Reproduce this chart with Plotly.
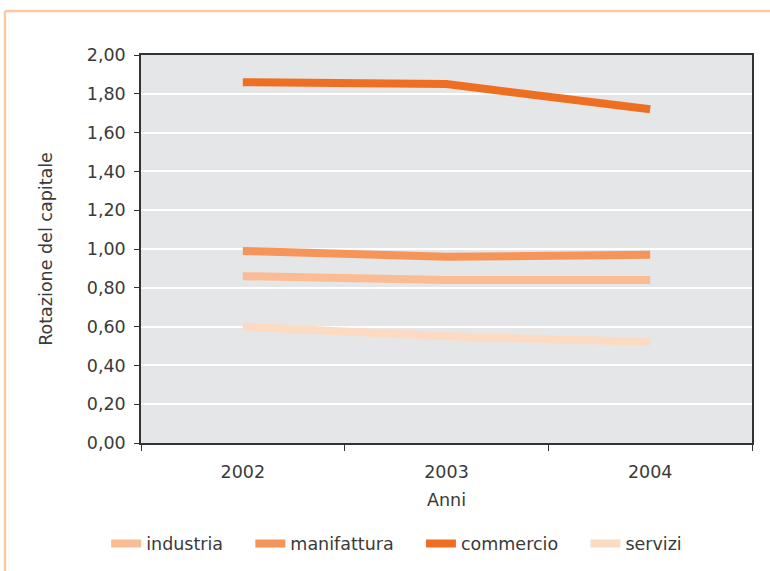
import plotly.graph_objects as go

anni = ["2002", "2003", "2004"]
industria = [0.86, 0.84, 0.84]
manifattura = [0.99, 0.96, 0.97]
commercio = [1.86, 1.85, 1.72]
servizi = [0.60, 0.55, 0.52]

series = [
    ("industria", industria, "#F9BC94"),
    ("manifattura", manifattura, "#F5955A"),
    ("commercio", commercio, "#EF6F22"),
    ("servizi", servizi, "#FCDBC2"),
]

y_ticks = [i * 0.2 for i in range(11)]
y_labels = [f"{v:.2f}".replace(".", ",") for v in y_ticks]

# trailing no-break spaces widen the gap between legend entries
gap = "\u00a0" * 4

fig = go.Figure()
for name, vals, color in series:
    fig.add_trace(go.Scatter(
        x=anni, y=vals, name=name + gap, mode="lines",
        line=dict(color=color, width=8),
    ))

font_family = "DejaVu Sans, Liberation Sans, sans-serif"
text_color = "#3a3a3a"
fig.update_layout(
    width=770, height=571,
    margin=dict(l=141, r=18, t=55, b=128, autoexpand=False),
    paper_bgcolor="white",
    plot_bgcolor="#E5E6E8",
    font=dict(family=font_family, size=17.5, color=text_color),
    showlegend=True,
    legend=dict(
        orientation="h", x=-0.057, xanchor="left", y=-0.213, yanchor="top",
        font=dict(size=17.5, color=text_color), itemwidth=30,
        tracegroupgap=0,
    ),
    xaxis=dict(
        type="category", tickson="boundaries", ticks="outside", ticklen=6,
        tickcolor="#333333", showline=True, linecolor="#333333", linewidth=1.5,
        mirror=True, showgrid=False, ticklabelstandoff=12, automargin=False,
        title=dict(text="Anni", font=dict(size=17.5), standoff=13),
        range=[-0.5, 2.5],
    ),
    yaxis=dict(
        range=[0, 2.0], tickvals=y_ticks, ticktext=y_labels,
        ticks="outside", ticklen=5, tickcolor="#333333", ticklabelstandoff=5,
        showline=True, linecolor="#333333", linewidth=1.5, mirror=True,
        showgrid=True, gridcolor="white", gridwidth=2, zeroline=False,
        automargin=False,
        title=dict(text="Rotazione del capitale", font=dict(size=17.5), standoff=30),
    ),
)

# decorative frame along the top and left edge of the page
frame = "#FFC8A0"
fig.add_shape(type="line", xref="paper", yref="paper",
              x0=-0.2226, x1=1.05, y0=1.1134, y1=1.1134,
              line=dict(color=frame, width=2.5))
fig.add_shape(type="line", xref="paper", yref="paper",
              x0=-0.2226, x1=-0.2226, y0=1.1134, y1=-0.35,
              line=dict(color=frame, width=2.5))

fig.write_html("out.html")
